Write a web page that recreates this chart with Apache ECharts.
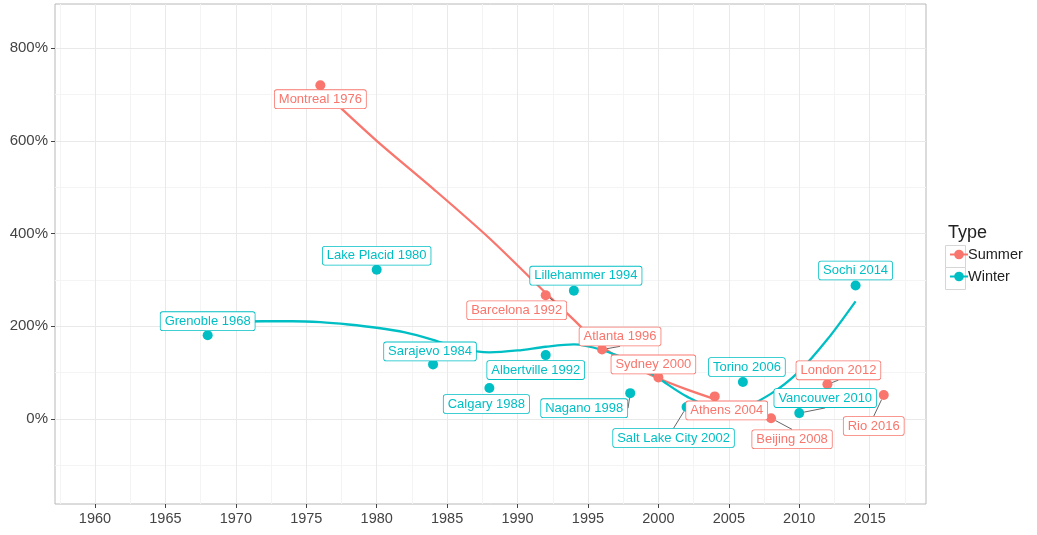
<!DOCTYPE html>
<html>
<head>
<meta charset="utf-8">
<script src="https://cdn.jsdelivr.net/npm/echarts@6/dist/echarts.min.js"></script>
<style>
html,body{margin:0;padding:0;background:#fff;}
#chart{width:1037px;height:535px;}
</style>
</head>
<body>
<div id="chart"></div>
<script>
// cost overrun of each games, in %
var summerNames = ['Montreal 1976','Barcelona 1992','Atlanta 1996','Sydney 2000','Athens 2004','Beijing 2008','London 2012','Rio 2016'];
var summerYears = [1976,1992,1996,2000,2004,2008,2012,2016];
var summerValues = [720,267,150,90,49,2,75,52];

var winterNames = ['Grenoble 1968','Lake Placid 1980','Sarajevo 1984','Calgary 1988','Albertville 1992','Lillehammer 1994','Nagano 1998','Salt Lake City 2002','Torino 2006','Vancouver 2010','Sochi 2014'];
var winterYears = [1968,1980,1984,1988,1992,1994,1998,2002,2006,2010,2014];
var winterValues = [181,322,118,67,138,277,56,26,80,13,288];

// smoothed trend lines
var summerTrendYears = [1976,1980,1984,1988,1992,1994,1996,1998,2000,2002,2004];
var summerTrendValues = [712,600,497,390,272,214,156,118,88,64,43];
var winterTrendYears = [1968,1970,1972,1974,1976,1978,1980,1982,1984,1986,1988,1990,1992,1994,1996,1998,2000,2002,2004,2006,2008,2010,2012,2014];
var winterTrendValues = [208,210,211,211,209,204,197,187,171,152,144,148,156,161,149,125,88,49,26,27,55,103,172,254];

var xTicks = [1960,1965,1970,1975,1980,1985,1990,1995,2000,2005,2010,2015];
var xMinorTicks = [1957.5,1962.5,1967.5,1972.5,1977.5,1982.5,1987.5,1992.5,1997.5,2002.5,2007.5,2012.5,2017.5];
var yTicks = [0,200,400,600,800];
var yMinorTicks = [-100,100,300,500,700];

var RED = '#F8766D';
var TEAL = '#00BFC4';

// where each label sits relative to its point (px), and which get a leader segment
var labelShift = {
    'Montreal 1976': [0,14], 'Barcelona 1992': [-29,15], 'Atlanta 1996': [18,-13],
    'Sydney 2000': [-5,-13], 'Athens 2004': [12,14], 'Beijing 2008': [21,21],
    'London 2012': [11,-14], 'Rio 2016': [-10,31],
    'Grenoble 1968': [0,-14], 'Lake Placid 1980': [0,-14], 'Sarajevo 1984': [-3,-13],
    'Calgary 1988': [-3,16], 'Albertville 1992': [-10,15], 'Lillehammer 1994': [12,-15],
    'Nagano 1998': [-46,15], 'Salt Lake City 2002': [-13,31], 'Torino 2006': [4,-15],
    'Vancouver 2010': [26,-15], 'Sochi 2014': [0,-15]
};
var withSegment = ['Barcelona 1992','Atlanta 1996','Nagano 1998','Salt Lake City 2002',
    'Beijing 2008','Vancouver 2010','London 2012','Rio 2016'];

function zip(a, b) {
    return a.map(function (v, i) { return [v, b[i]]; });
}
function points(names, years, values) {
    return names.map(function (n, i) {
        return {name: n, value: [years[i], values[i]],
                labelLine: {show: withSegment.indexOf(n) >= 0}};
    });
}
function pointSeries(name, color, data) {
    return {
        name: name,
        type: 'scatter',
        symbolSize: 10,
        itemStyle: {color: color, opacity: 1},
        data: data,
        z: 3,
        label: {
            show: true,
            position: 'inside',
            formatter: '{b}',
            color: color,
            fontSize: 13,
            fontFamily: 'Liberation Sans',
            backgroundColor: '#fff',
            borderColor: color,
            borderWidth: 0.8,
            borderRadius: 2,
            padding: [3, 4, 2, 4]
        },
        labelLine: {show: true, lineStyle: {color: '#555', width: 0.9}},
        labelLayout: function (p) {
            var s = labelShift[data[p.dataIndex].name] || [0, 0];
            return {dx: s[0], dy: s[1]};
        }
    };
}
function trendSeries(name, color, data) {
    return {
        name: name,
        type: 'line',
        smooth: 0.3,
        symbol: 'circle',
        symbolSize: 8,
        showSymbol: false,
        lineStyle: {color: color, width: 2.3},
        itemStyle: {color: color},
        data: data,
        z: 2,
        silent: true
    };
}
function minorAxis(ticks, min, max) {
    return {
        type: 'value', min: min, max: max,
        axisLine: {show: false},
        axisLabel: {show: false},
        axisTick: {show: false, customValues: ticks},
        splitLine: {show: true, lineStyle: {color: '#f4f4f4', width: 1}}
    };
}

var myChart = echarts.init(document.getElementById('chart'));
myChart.setOption({
    animation: false,
    textStyle: {fontFamily: 'Liberation Sans'},
    title: {
        text: 'Type',
        left: 943,
        top: 219,
        textStyle: {fontSize: 18, fontWeight: 'normal', color: '#222'}
    },
    legend: {
        orient: 'vertical',
        left: 944,
        top: 242,
        itemWidth: 18,
        itemHeight: 12,
        itemGap: 7,
        selectedMode: false,
        data: ['Summer', 'Winter'],
        textStyle: {fontSize: 14.5, color: '#222', padding: [0, 0, 0, -5]}
    },
    graphic: [
        {type: 'rect', left: 943, top: 243, shape: {width: 20, height: 22}, style: {fill: 'none', stroke: '#d6d6d6', lineWidth: 1}, z: -1},
        {type: 'rect', left: 943, top: 265, shape: {width: 20, height: 22}, style: {fill: 'none', stroke: '#d6d6d6', lineWidth: 1}, z: -1}
    ],
    grid: {left: 55, right: 111, top: 4, bottom: 31, show: true, borderColor: '#b8b8b8', borderWidth: 1},
    xAxis: [{
        type: 'value',
        min: 1957.16,
        max: 2019,
        axisLine: {show: false, onZero: false},
        axisTick: {show: true, customValues: xTicks, length: 4, lineStyle: {color: '#444'}},
        axisLabel: {
            customValues: xTicks,
            fontSize: 14.5, color: '#444', margin: 7,
            formatter: function (v) { return String(v); }
        },
        splitLine: {show: true, lineStyle: {color: '#e9e9e9', width: 1}},
        z: 1
    }, minorAxis(xMinorTicks, 1957.16, 2019)],
    yAxis: [{
        type: 'value',
        min: -183,
        max: 895,
        axisLine: {show: false, onZero: false},
        axisTick: {show: true, customValues: yTicks, length: 4, lineStyle: {color: '#444'}},
        axisLabel: {
            customValues: yTicks,
            fontSize: 15, color: '#444', margin: 7,
            formatter: function (v) { return v + '%'; }
        },
        splitLine: {show: true, lineStyle: {color: '#e9e9e9', width: 1}},
        z: 1
    }, minorAxis(yMinorTicks, -183, 895)],
    series: [
        trendSeries('Summer', RED, zip(summerTrendYears, summerTrendValues)),
        trendSeries('Winter', TEAL, zip(winterTrendYears, winterTrendValues)),
        pointSeries('Summer', RED, points(summerNames, summerYears, summerValues)),
        pointSeries('Winter', TEAL, points(winterNames, winterYears, winterValues))
    ]
});
</script>
</body>
</html>
